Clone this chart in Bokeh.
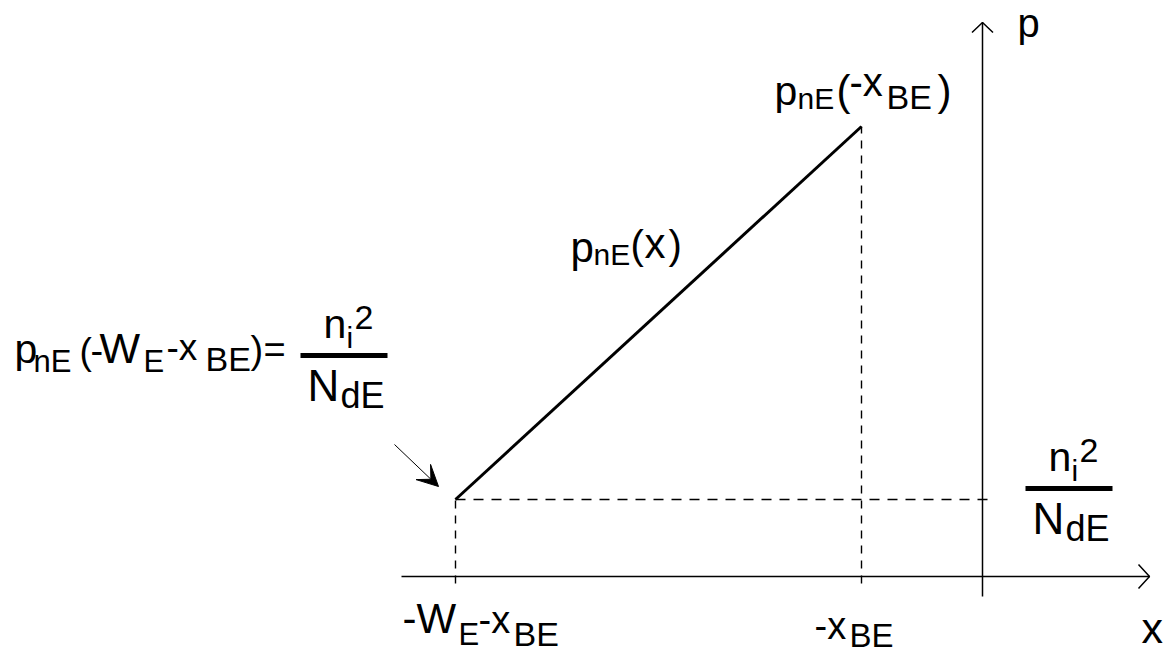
from bokeh.plotting import figure
from bokeh.models import Range1d, Arrow, VeeHead
from bokeh.core.properties import value
from bokeh.embed import file_html
from bokeh.resources import INLINE

# Hole profile in the emitter quasi-neutral region (arbitrary units, origin at the junction)
x_ends = [-5.27, -1.21]        # x = -W_E - x_BE  and  x = -x_BE
p_ends = [0.77, 4.50]          # p_nE at those two points
p_eq = 0.77                    # equilibrium value n_i^2 / N_dE

# axis extents of the sketch
x_axis = [-5.81, 1.67]
p_axis = [-0.20, 5.54]

W, H = 1165, 654
x_view = (-9.82, 1.83)
y_view = (-0.78, 5.76)
PX = W / (x_view[1] - x_view[0])   # screen pixels per unit (same on both axes)

FONT = "Liberation Sans"
INK = "black"
LIFT = 0.35                        # baseline correction, as a fraction of the font size

p = figure(width=W, height=H, x_range=Range1d(*x_view), y_range=Range1d(*y_view),
           output_backend="svg", toolbar_location=None,
           x_axis_location=None, y_axis_location=None, min_border=0)
p.grid.visible = False
p.outline_line_color = None
p.background_fill_color = "white"
p.border_fill_color = "white"


def at(ax, ay, dx, dy):
    """Data position shifted by a screen offset in pixels (dy positive = down)."""
    return ax + dx / PX, ay - dy / PX


def runs(ax, ay, pieces):
    for txt, dx, dy, size in pieces:
        x, y = at(ax, ay, dx, dy - LIFT * size)
        p.text(x=[x], y=[y], text=[txt], text_font=value(FONT),
               text_font_size=f"{size}px", text_align="left",
               text_baseline="alphabetic", text_color=INK)


def fraction(ax, ay, dx, dy):
    # n_i^2 over N_dE with a heavy rule between them
    x0, y0 = at(ax, ay, dx, dy)
    x1, _ = at(ax, ay, dx + 87, dy)
    p.segment(x0=[x0], y0=[y0], x1=[x1], y1=[y0], line_color=INK, line_width=5)
    runs(x0, y0, [("n", 23, -17, 41), ("i", 46, -8, 30), ("2", 54, -26, 34),
                  ("N", 7, 45, 44), ("dE", 40, 53, 36)])


# coordinate axes
p.line(x=x_axis, y=[0, 0], line_color=INK, line_width=1.5)
p.line(x=[0, 0], y=p_axis, line_color=INK, line_width=1.5)
hx, hy = x_axis[1], 0
p.line(x=[hx - 0.11, hx, hx - 0.11], y=[hy + 0.12, hy, hy - 0.12], line_color=INK, line_width=1.5)
vx, vy = 0, p_axis[1]
p.line(x=[vx - 0.105, vx, vx + 0.105], y=[vy - 0.10, vy, vy - 0.10], line_color=INK, line_width=1.5)

# dashed guides
p.line(x=[x_ends[0], 0.11], y=[p_eq, p_eq], line_color=INK, line_width=1.4, line_dash="10 8")
for xe, pe in zip(x_ends, p_ends):
    p.line(x=[xe, xe], y=[-0.07, pe], line_color=INK, line_width=1.4, line_dash="8 7")

# linear minority-carrier profile
p.line(x=x_ends, y=p_ends, line_color=INK, line_width=3)

# pointer to the boundary value
p.add_layout(Arrow(end=VeeHead(size=21, fill_color=INK, line_color=INK, line_width=1),
                   x_start=x_ends[0] - 0.61, y_start=p_eq + 0.55,
                   x_end=x_ends[0] - 0.17, y_end=p_eq + 0.13,
                   line_color=INK, line_width=1))

# boundary value at x = -W_E - x_BE
runs(x_ends[0], p_eq, [
    ("p", -441, -136, 41), ("nE", -422, -127, 31), ("(", -376, -135, 37),
    ("-", -365, -136, 38), ("W", -356, -136, 43), ("E", -312, -127, 31),
    ("-x", -289, -139, 37), ("BE", -250, -129, 34), (")", -205, -136, 38),
    ("=", -192, -136, 38),
])
fraction(x_ends[0], p_eq, -155, -144)

# value at x = -x_BE
runs(x_ends[1], p_ends[1], [
    ("p", -87, -21, 41), ("nE", -64, -18, 30), ("(", -25, -21, 42),
    ("-x", -12, -31, 40), ("BE", 25, -18, 34), (")", 76, -21, 42),
])

# profile label beside the line
mx, my = sum(x_ends) / 2, sum(p_ends) / 2
runs(mx, my, [
    ("p", -88, -51, 42), ("nE", -65, -48, 30), ("(", -28, -54, 40),
    ("x", -14, -55, 42), (")", 10, -54, 40),
])

# equilibrium level next to the p axis
fraction(0, p_eq, 43, -11)

# tick labels under the x axis
runs(x_ends[0], 0, [
    ("-W", -53, 57, 42), ("E", 3, 69, 31), ("-x", 23, 57, 38), ("BE", 58, 69, 34),
])
runs(x_ends[1], 0, [
    ("-x", -47, 63, 38), ("BE", -12, 71, 33),
])

# axis names
runs(x_axis[1], 0, [("x", -8, 67, 43)])
runs(0, p_axis[1], [("p", 35, 14, 40)])

open("out.html", "w").write(file_html(p, INLINE))
